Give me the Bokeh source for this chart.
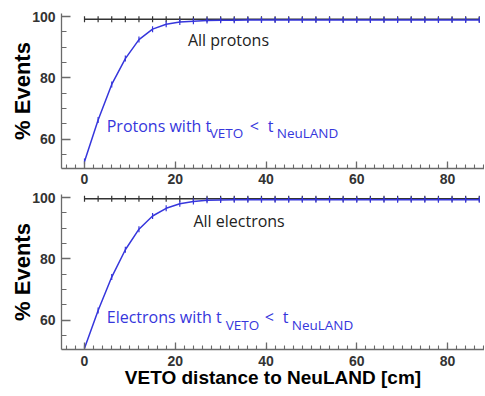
import math
from bokeh.plotting import figure
from bokeh.layouts import column
from bokeh.models import FixedTicker, Range1d, Label
from bokeh.embed import file_html
from bokeh.resources import INLINE

# ---- data ----
distance_cm = [0, 3, 6, 9, 12, 15, 18, 21, 24, 27, 30, 33, 36, 39, 42, 45,
               48, 51, 54, 57, 60, 63, 66, 69, 72, 75, 78, 81, 84, 87]
protons_all = [99.1, 99.1, 99.1, 99.1, 99.1, 99.1, 99.1, 99.1, 99.1, 99.1,
               99.1, 99.1, 99.1, 99.1, 99.1, 99.1, 99.1, 99.1, 99.1, 99.1,
               99.1, 99.1, 99.1, 99.1, 99.1, 99.1, 99.1, 99.1, 99.1, 99.1]
protons_veto = [52.8, 66.3, 77.9, 86.3, 92.5, 95.9, 97.5, 98.2, 98.5, 98.7,
                98.8, 98.8, 98.9, 98.9, 98.9, 98.9, 98.9, 98.9, 98.9, 98.9,
                98.9, 98.9, 98.9, 98.9, 98.9, 98.9, 98.9, 98.9, 98.9, 98.9]
electrons_all = [99.6, 99.6, 99.6, 99.6, 99.6, 99.6, 99.6, 99.6, 99.6, 99.6,
                 99.6, 99.6, 99.6, 99.6, 99.6, 99.6, 99.6, 99.6, 99.6, 99.6,
                 99.6, 99.6, 99.6, 99.6, 99.6, 99.6, 99.6, 99.6, 99.6, 99.6]
electrons_veto = [50.9, 63.2, 74.1, 83.0, 89.7, 94.0, 96.5, 98.0, 98.7, 99.1,
                  99.2, 99.3, 99.3, 99.3, 99.3, 99.3, 99.3, 99.3, 99.3, 99.3,
                  99.3, 99.3, 99.3, 99.3, 99.3, 99.3, 99.3, 99.3, 99.3, 99.3]

x_major_ticks = [0, 20, 40, 60, 80]
x_minor_ticks = list(range(-4, 90, 2))
y_major_ticks = [60, 80, 100]
y_minor_ticks = [55, 60, 65, 70, 75, 80, 85, 90, 95, 100]

BLUE = "#3636dc"
DARK = "#333333"
AXIS = "#6a6a6a"


def make_panel(all_vals, veto_vals, all_text, veto_text, veto_offsets,
               sub_drop, label_pos, top_border, show_title):
    p = figure(frame_width=423, frame_height=155, output_backend="svg",
               toolbar_location=None, x_range=Range1d(-5.07, 88.15),
               y_range=Range1d(50.5, 101), min_border_top=top_border,
               min_border_bottom=0, min_border_left=61, min_border_right=0,
               outline_line_color=None, background_fill_color="white",
               border_fill_color="white")
    p.grid.visible = False

    p.xaxis.ticker = FixedTicker(ticks=x_major_ticks, minor_ticks=x_minor_ticks)
    p.yaxis.ticker = FixedTicker(ticks=y_major_ticks, minor_ticks=y_minor_ticks)
    for ax in (p.xaxis[0], p.yaxis[0]):
        ax.axis_line_color = AXIS
        ax.axis_line_width = 1.3
        ax.major_tick_line_color = AXIS
        ax.minor_tick_line_color = AXIS
        ax.major_tick_line_width = 1.3
        ax.minor_tick_line_width = 1.1
        ax.major_tick_out = 0
        ax.minor_tick_out = 0
        ax.major_label_text_font = "Liberation Sans"
        ax.major_label_text_font_style = "bold"
        ax.major_label_text_font_size = "14px"
        ax.major_label_text_color = DARK
    p.xaxis.major_tick_in = 7
    p.xaxis.minor_tick_in = 4
    p.yaxis.major_tick_in = 9
    p.yaxis.minor_tick_in = 5
    p.xaxis.major_label_standoff = 5 if not show_title else 6
    p.yaxis.major_label_standoff = 6

    p.yaxis.axis_label = "% Events"
    p.yaxis.axis_label_text_font = "Liberation Sans"
    p.yaxis.axis_label_text_font_style = "bold"
    p.yaxis.axis_label_text_font_size = "22px"
    p.yaxis.axis_label_text_color = "black"
    p.yaxis.axis_label_standoff = -6

    if show_title:
        p.xaxis.axis_label = "VETO distance to NeuLAND [cm]"
        p.xaxis.axis_label_text_font = "Liberation Sans"
        p.xaxis.axis_label_text_font_style = "bold"
        p.xaxis.axis_label_text_font_size = "19px"
        p.xaxis.axis_label_text_color = "black"
        p.xaxis.axis_label_standoff = -2

    # all-events line (black)
    p.line(distance_cm, all_vals, line_color=DARK, line_width=1.5)
    p.scatter(distance_cm, all_vals, marker="dash", angle=math.pi / 2,
              size=6, line_color=DARK, line_width=1.2)
    # veto-selected line (blue)
    p.line(distance_cm, veto_vals, line_color=BLUE, line_width=1.5)
    p.scatter(distance_cm, veto_vals, marker="dash", angle=math.pi / 2,
              size=6, line_color=BLUE, line_width=1.2)

    (ax_all, ay_all), (ax_v, ay_v) = label_pos
    p.add_layout(Label(x=ax_all, y=ay_all, text=all_text,
                       text_font="Open Sans", text_font_size="16px",
                       text_color="#222222", text_baseline="alphabetic"))
    pieces = [(veto_text, 0, 0, "16px"), ("VETO", veto_offsets[0], -sub_drop, "13.5px"),
              ("<", veto_offsets[1], 0, "16px"), ("t", veto_offsets[2], 0, "16px"),
              ("NeuLAND", veto_offsets[3], -sub_drop, "13.5px")]
    for txt, xo, yo, fs in pieces:
        p.add_layout(Label(x=ax_v, y=ay_v, x_offset=xo, y_offset=yo, text=txt,
                           text_font="Open Sans", text_font_size=fs,
                           text_color=BLUE, text_baseline="alphabetic"))
    return p


top = make_panel(protons_all, protons_veto, "All protons", "Protons with t",
                 (103, 143, 161, 170), 7,
                 ((22.8, 92.5), (4.9, 64.5)), 13, False)
bottom = make_panel(electrons_all, electrons_veto, "All electrons",
                    "Electrons with t", (119, 158, 176, 185), 8,
                    ((24.0, 92.5), (4.9, 61.25)), 8, True)

layout = column(top, bottom, spacing=0)
open("out.html", "w").write(file_html(layout, INLINE))
